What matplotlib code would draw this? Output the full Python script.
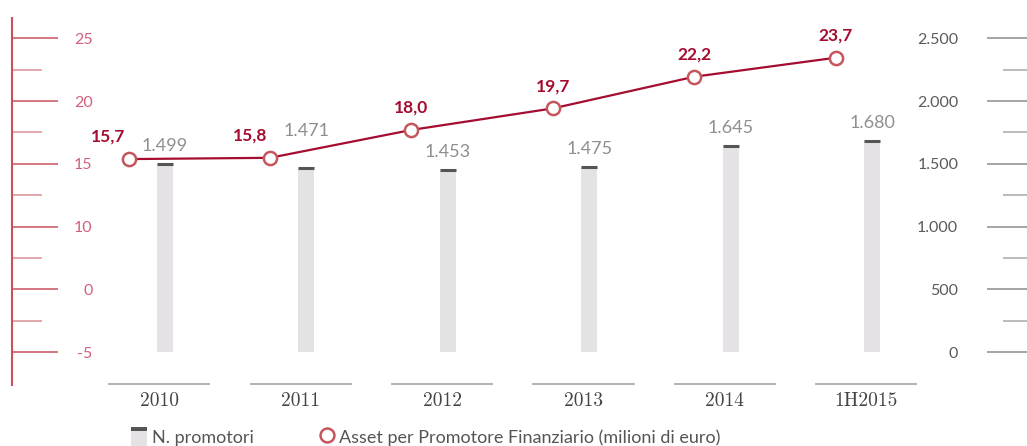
import numpy as np
from matplotlib import pyplot as plt
from matplotlib.lines import Line2D
from matplotlib.patches import Patch, Rectangle
from matplotlib.legend_handler import HandlerPatch, HandlerTuple

years = ['2010', '2011', '2012', '2013', '2014', '1H2015']
promotori = [1499, 1471, 1453, 1475, 1645, 1680]
asset = [15.7, 15.8, 18.0, 19.7, 22.2, 23.7]

left_labels = ['-5', '0', '10', '15', '20', '25']
right_ticks = [0, 500, 1000, 1500, 2000, 2500]

LINE = '#a50d30'
MARK_EDGE = '#c5565d'
BAR = '#e4e2e5'
CAP = '#555555'
LEFT_TXT = '#d2607a'
LEFT_AX = '#c9525c'


def fmt_int(v):
    return f"{v:,}".replace(',', '.')


def fmt_dec(v):
    return f"{v:.1f}".replace('.', ',')


def cap_rect(legend, orig_handle, xdescent, ydescent, width, height, fontsize):
    return Rectangle((-xdescent, -ydescent + height * 0.82), width, height * 0.18)


plt.rcParams['font.family'] = ['Lato', 'DejaVu Sans']

fig = plt.figure(figsize=(10.27, 4.46), dpi=100)
ax = fig.add_axes([12 / 1027, 61 / 446, 1015 / 1027, 367 / 446])
ax2 = ax.twinx()
ax3 = ax.twinx()

x = np.arange(len(years))

# left axis (slots, evenly spaced labels)
ax.set_xlim(-1.082, 6.096)
ax.set_ylim(-0.521, 5.323)
ax.set_yticks(range(len(left_labels)), left_labels)
ax.set_yticks(np.arange(len(left_labels) - 1) + 0.5, minor=True)
ax.tick_params(axis='y', which='major', direction='in', length=33, width=1.1,
               color=LEFT_AX, labelcolor=LEFT_TXT, labelsize=11.5, pad=-58)
ax.tick_params(axis='y', which='minor', direction='in', length=21.5, width=1.1,
               color='#d88f96')
for s in ['top', 'right', 'bottom']:
    ax.spines[s].set_visible(False)
ax.spines['left'].set_color(LEFT_AX)
ax.spines['left'].set_linewidth(1.5)

ax.set_xticks(x - 0.04, years)
ax.tick_params(axis='x', length=0, pad=5, labelsize=14, labelcolor='#444444')
for t in ax.get_xticklabels():
    t.set_fontfamily('cmr10')
for xi in x:
    ax.plot([xi - 0.394, xi + 0.314], [0.003, 0.003], color='#aaaaaa', lw=1.3,
            transform=ax.get_xaxis_transform(), clip_on=False)

# bars on right axis
ax2.set_ylim(-260.4, 2661.6)
ax2.bar(x, promotori, width=0.113, color=BAR, zorder=1)
ax2.hlines(promotori, x - 0.0565, x + 0.0565, color=CAP, lw=2.2, zorder=2)
for i, (xi, v) in enumerate(zip(x, promotori)):
    dy = 26 if i == 1 else 13
    ax2.annotate(fmt_int(v), (xi, v), xytext=(0, dy), textcoords='offset points',
                 ha='center', va='center', fontsize=13, color='#8f8f8f')
ax2.set_yticks(right_ticks, [fmt_int(v) for v in right_ticks])
ax2.set_yticks(np.array(right_ticks[:-1]) + 250, minor=True)
ax2.tick_params(axis='y', which='major', direction='in', length=29, width=1.1,
                color='#8c8c8c', labelcolor='#5a5a5a', labelsize=11.5, pad=-49.5)
ax2.tick_params(axis='y', which='minor', direction='in', length=17.5, width=1.1,
                color='#a8a8a8')
for t in ax2.get_yticklabels():
    t.set_horizontalalignment('right')
for s in ['top', 'right', 'bottom', 'left']:
    ax2.spines[s].set_visible(False)

# line on its own hidden scale
ax3.set_ylim(-2.131, 26.835)
ax3.plot(x - 0.257, asset, color=LINE, lw=1.6, marker='o', ms=9.5,
         mfc='white', mec=MARK_EDGE, mew=1.8, zorder=3)
for i, (xi, v) in enumerate(zip(x - 0.257, asset)):
    dx = -14.5 if i < 2 else 0
    ax3.annotate(fmt_dec(v), (xi, v), xytext=(dx, 16), textcoords='offset points',
                 ha='center', va='center', fontsize=12.5, fontweight='bold',
                 color=LINE)
ax3.axis('off')

# legend
bar_h = Patch(facecolor=BAR, edgecolor='none')
cap_h = Patch(facecolor=CAP, edgecolor='none')
circ_h = Line2D([], [], ls='none', marker='o', ms=10, mfc='white',
                mec=MARK_EDGE, mew=1.8)
fig.legend([(bar_h, cap_h), circ_h],
           ['N. promotori', 'Asset per Promotore Finanziario (milioni di euro)'],
           handler_map={cap_h: HandlerPatch(patch_func=cap_rect),
                        tuple: HandlerTuple(ndivide=1)},
           loc='center left', bbox_to_anchor=(131 / 1027, 1 - 437 / 446),
           ncol=2, frameon=False, fontsize=13, labelcolor='#555555',
           handlelength=0.9, handleheight=1.3, handletextpad=0.25,
           columnspacing=3.6, borderpad=0, borderaxespad=0)

fig.savefig('out.png', dpi=100)
